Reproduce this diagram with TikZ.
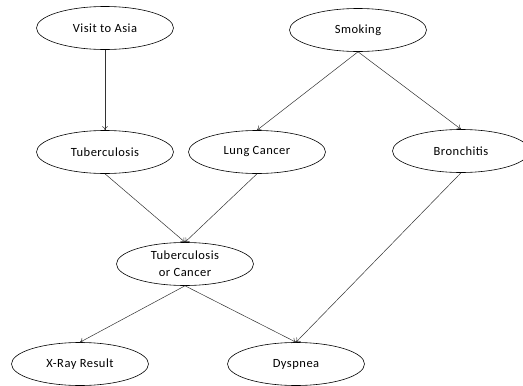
\documentclass[tikz,border=0pt]{standalone}
\usepackage{fontspec}
\setmainfont{Carlito}[LetterSpace=4]
\usetikzlibrary{shapes.geometric,arrows.meta}
\tikzset{
  var/.style={ellipse, draw=black, line width=0.6pt, minimum width=137pt, minimum height=43pt, inner sep=0pt, align=center, font=\fontsize{12.5}{17}\selectfont},
  dep/.style={draw=black!80, line width=0.5pt, -{To[length=4pt,width=6pt]}}
}
\begin{document}
\begin{tikzpicture}[x=1pt,y=-1pt]
    \useasboundingbox (0,0) rectangle (523,386);
    \clip (0,0) rectangle (523,386);

    \node[var] (asia) at (105,28) {Visit to Asia};
    \node[var] (smoke) at (358,30) {Smoking};
    \node[var] (tub) at (105,152) {Tuberculosis};
    \node[var] (lung) at (257,152) {Lung Cancer};
    \node[var] (bronc) at (461,151) {Bronchitis};
    \node[var] (either) at (185,264) {Tuberculosis\\or Cancer};
    \node[var] (xray) at (80,364) {X-Ray Result};
    \node[var] (dysp) at (296,364) {Dyspnea};

    \draw[dep] (asia.south) -- (tub.north);
    \draw[dep] (smoke.south) -- (lung.north);
    \draw[dep] (smoke.south) -- (bronc.north);
    \draw[dep] (tub.south) -- (either.north);
    \draw[dep] (lung.south) -- (either.north);
    \draw[dep] (bronc.south) -- (dysp.north);
    \draw[dep] (either.south) -- (xray.north);
    \draw[dep] (either.south) -- (dysp.north);
\end{tikzpicture}
\end{document}
